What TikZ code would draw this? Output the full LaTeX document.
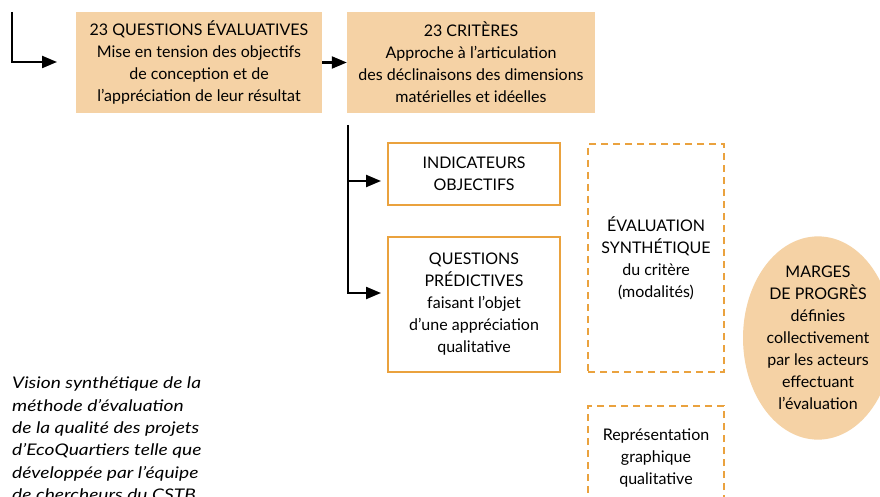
\documentclass[tikz,border=0pt]{standalone}
\usepackage{fontspec}
\setmainfont{Lato}
\usetikzlibrary{arrows.meta,shapes.geometric}
\definecolor{tan}{RGB}{245,210,165}
\definecolor{orng}{RGB}{234,162,62}
\tikzset{
  every node/.style={font=\fontsize{16}{22}\selectfont, align=center, inner sep=0pt},
  filledbox/.style={fill=tan, minimum width=246pt, minimum height=101pt},
  linebox/.style={draw=orng, line width=2.5pt, minimum width=172pt},
  dashbox/.style={draw=orng, line width=2.5pt, dash pattern=on 7pt off 5pt, minimum width=136pt},
  conn/.style={line width=2.2pt, -{Triangle[length=15pt,width=12pt]}},
  trunk/.style={line width=2.2pt}
}
\begin{document}
\begin{tikzpicture}[x=1pt,y=-1pt]
\clip (0,0) rectangle (880,497);
\fill[white] (0,0) rectangle (880,497);

\node[filledbox] (b1) at (199,62.5) {23 QUESTIONS ÉVALUATIVES\\Mise en tension des objectifs\\de conception et de\\l’appréciation de leur résultat};
\node[filledbox, minimum width=248pt] (b2) at (471,62.5) {23 CRITÈRES\\Approche à l’articulation\\des déclinaisons des dimensions\\matérielles et idéelles};

\node[linebox, minimum height=62pt] (ind) at (474,174) {INDICATEURS\\OBJECTIFS};
\node[linebox, minimum height=135pt] (qp) at (474,304.5) {QUESTIONS\\PRÉDICTIVES\\faisant l’objet\\d’une appréciation\\qualitative};

\node[dashbox, minimum height=228pt] (ev) at (656,258) {ÉVALUATION\\SYNTHÉTIQUE\\du critère\\(modalités)};
\node[dashbox, minimum height=104pt] (rep) at (656,458) {Représentation\\graphique\\qualitative};

\node[ellipse, fill=tan, minimum width=150pt, minimum height=180pt] (mp) at (818,338) {MARGES\\DE PROGRÈS\\définies\\collectivement\\par les acteurs\\effectuant\\l’évaluation};

\node[anchor=north west, align=left, font=\itshape\fontsize{16}{22.3}\selectfont\addfontfeature{FakeStretch=1.2}] (cap) at (12,377) {Vision synthétique de la\\méthode d’évaluation\\de la qualité des projets\\d’EcoQuartiers telle que\\développée par l’équipe\\de chercheurs du CSTB};

% connectors
\coordinate (s0) at (12,12);
\coordinate (s1) at (57,62);
\draw[conn] (s0) |- (s1);
\draw[conn] (b1.east) -- (b2.west);

\coordinate (t0) at (348,125);
\coordinate (t1) at (381,181);
\coordinate (t2) at (381,293);
\draw[trunk] (t0) |- ([xshift=-12pt]t2);
\draw[conn] (t0 |- t1) -- (t1);
\draw[conn] (t0 |- t2) -- (t2);
\end{tikzpicture}
\end{document}
